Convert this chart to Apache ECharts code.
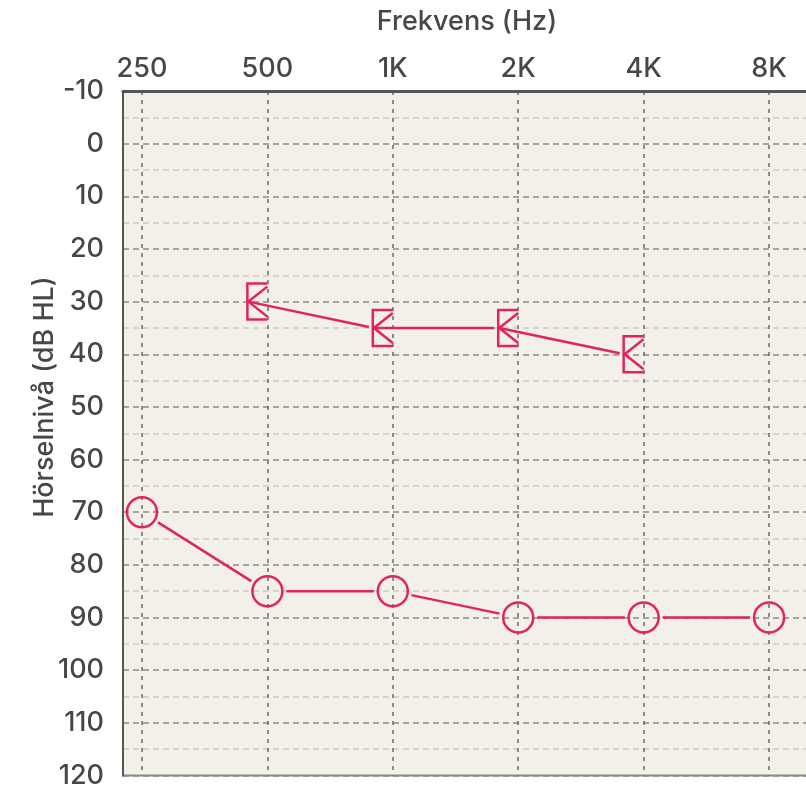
<!DOCTYPE html>
<html>
<head>
<meta charset="utf-8">
<script src="https://cdn.jsdelivr.net/npm/echarts@6/dist/echarts.min.js"></script>
<style>
  html, body { margin: 0; padding: 0; background: #fff; overflow: hidden; }
  #chart { width: 840px; height: 789px; }
</style>
</head>
<body>
<div id="chart"></div>
<script>
// frequencies (one octave apart) and thresholds in dB HL
const freqLabels = ['250', '500', '1K', '2K', '4K', '8K']
const airValues = [70, 85, 85, 90, 90, 90]
const boneValues = [null, 30, 35, 35, 40, null]
const dbTicks = [-10, 0, 10, 20, 30, 40, 50, 60, 70, 80, 90, 100, 110, 120]

const red = '#e2245a'
const textColor = '#474747'
const font = '500 27px Inter, sans-serif'

const octaves = freqLabels.map((f, i) => i)
const airData = airValues.map((v, i) => [i, v])
const boneData = []
boneValues.forEach((v, i) => { if (v != null) boneData.push([i, v]) })

function shorten(a, b, startCut, endCut) {
    let dx = b[0] - a[0], dy = b[1] - a[1]
    let len = Math.sqrt(dx * dx + dy * dy)
    let ux = dx / len, uy = dy / len
    return {
        x1: a[0] + ux * startCut, y1: a[1] + uy * startCut,
        x2: b[0] - ux * endCut, y2: b[1] - uy * endCut
    }
}

function renderAir(params, api) {
    let i = params.dataIndex
    let p = api.coord([api.value(0), api.value(1)])
    let r = 15
    let children = [{
        type: 'circle',
        shape: { cx: p[0], cy: p[1], r: r },
        style: { fill: 'none', stroke: red, lineWidth: 2.5 }
    }]
    if (i < airData.length - 1) {
        let q = api.coord(airData[i + 1])
        children.push({
            type: 'line',
            shape: shorten(p, q, r + 4, r + 4),
            style: { stroke: red, lineWidth: 2.5 }
        })
    }
    return { type: 'group', children: children }
}

function renderBone(params, api) {
    let i = params.dataIndex
    let p = api.coord([api.value(0), api.value(1)])
    let w = 20, h = 18
    let x = p[0], y = p[1]
    let children = [{
        type: 'polyline',
        shape: { points: [[x, y - h], [x - w, y - h], [x - w, y + h], [x, y + h]] },
        style: { fill: 'none', stroke: red, lineWidth: 2.5 }
    }, {
        type: 'polyline',
        shape: { points: [[x, y - 15], [x - w + 1, y], [x, y + 15]] },
        style: { fill: 'none', stroke: red, lineWidth: 2.5 }
    }]
    if (i < boneData.length - 1) {
        let q = api.coord(boneData[i + 1])
        let tipA = [x - w + 1, y]
        let tipB = [q[0] - w + 1, q[1]]
        children.push({
            type: 'line',
            shape: shorten(tipA, tipB, 0, 5),
            style: { stroke: red, lineWidth: 2.5 }
        })
    }
    return { type: 'group', children: children }
}

const chart = echarts.init(document.getElementById('chart'))
chart.setOption({
    backgroundColor: '#fff',
    animation: false,
    textStyle: { fontFamily: 'Inter, sans-serif' },
    grid: {
        left: 123,
        right: 19,
        top: 91,
        bottom: 9,
        show: true,
        backgroundColor: '#f3f0e8',
        borderColor: '#8c8c8c',
        borderWidth: 2
    },
    xAxis: {
        type: 'value',
        position: 'top',
        min: -0.151,
        max: 5.414,
        axisLine: { show: true, onZero: false, lineStyle: { color: '#555', width: 3 } },
        axisTick: { show: false, customValues: octaves },
        axisLabel: {
            customValues: octaves,
            formatter: v => freqLabels[Math.round(v)],
            color: textColor,
            fontSize: 27,
            fontWeight: 500,
            margin: 9
        },
        splitLine: { show: true, lineStyle: { color: '#6a6a6a', width: 1.5, type: [4, 5] } }
    },
    yAxis: {
        type: 'value',
        inverse: true,
        min: dbTicks[0],
        max: dbTicks[dbTicks.length - 1],
        interval: 10,
        axisLine: { show: true, onZero: false, lineStyle: { color: '#555', width: 2 } },
        axisTick: { show: false },
        axisLabel: { color: textColor, fontSize: 27, fontWeight: 500, margin: 19, padding: [4, 0, 0, 0] },
        splitLine: { show: true, lineStyle: { color: '#8a8a8a', width: 1.5, type: [6, 4] } },
        minorTick: { show: false, splitNumber: 2 },
        minorSplitLine: { show: true, lineStyle: { color: '#cdcac2', width: 1.5, type: [6, 4] } }
    },
    graphic: [{
        type: 'text',
        x: 467,
        y: 22,
        style: { text: 'Frekvens (Hz)', fill: textColor, font: font, align: 'center', verticalAlign: 'middle' }
    }, {
        type: 'text',
        x: 45,
        y: 397,
        rotation: Math.PI / 2,
        style: { text: 'Hörselnivå (dB HL)', fill: textColor, font: font, align: 'center', verticalAlign: 'middle' }
    }],
    series: [{
        name: 'Luft',
        type: 'custom',
        renderItem: renderAir,
        data: airData,
        clip: false
    }, {
        name: 'Ben',
        type: 'custom',
        renderItem: renderBone,
        data: boneData,
        clip: false
    }]
})
</script>
</body>
</html>
